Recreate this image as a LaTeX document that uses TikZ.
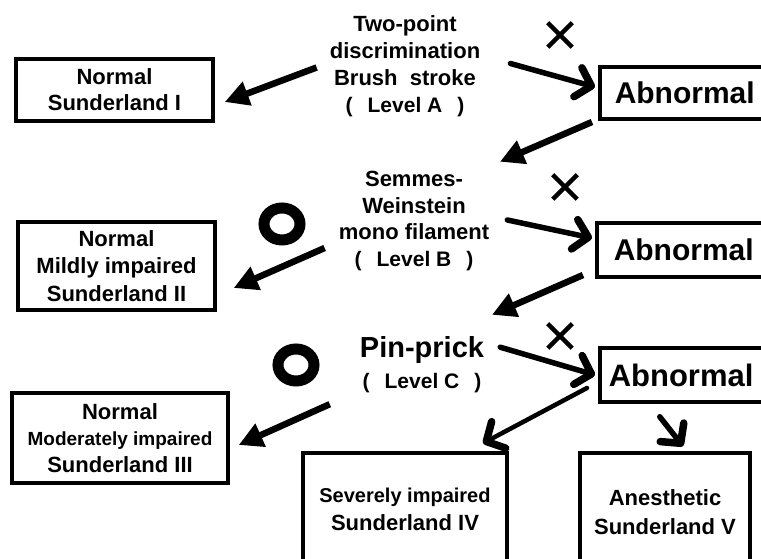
\documentclass[tikz,border=0pt]{standalone}
\usepackage{fontspec}
\setmainfont{Liberation Sans}
\usetikzlibrary{arrows.meta,shapes.misc,shapes.geometric,calc}

\begin{document}
\begin{tikzpicture}[x=1pt,y=1pt,
  box/.style={draw,line width=3.5pt,inner sep=0pt,align=center},
  abn/.style={draw,line width=3.5pt,anchor=west,text width=170pt,align=left,inner ysep=0pt,font=\bfseries\fontsize{30}{30}\selectfont},
  txt/.style={inner sep=0pt,align=center},
  fat/.style={line width=6.5pt,-{Triangle[length=24pt,width=24pt]}},
  barb/.style={line width=5.5pt,line cap=round,-{Straight Barb[length=14pt,width=30pt,line width=7.5pt,round]}},
  ring/.style={ellipse,draw,line width=11pt,minimum width=36pt,minimum height=32pt,inner sep=0pt},
  ng/.style={cross out,draw,line width=4.5pt,minimum size=20pt,inner sep=0pt}]
\useasboundingbox (0,0) rectangle (761,559);

% Text Node
\node [txt] [font=\bfseries\fontsize{22}{27}\selectfont] (tA) at (405,492.5) {Two-point\\discrimination\\Brush\ \ stroke\\{\fontsize{21}{27}\selectfont(\hspace{15pt}Level A\hspace{15pt})}};
% Text Node
\node [txt] [font=\bfseries\fontsize{22}{26.8}\selectfont] (tB) at (414,338) {Semmes-\\Weinstein\\mono filament\\{\fontsize{21}{26.8}\selectfont(\hspace{15pt}Level B\hspace{15pt})}};
% Text Node
\node [txt] [font=\bfseries\fontsize{29}{31}\selectfont] (tC) at (422,194.8) {Pin-prick\\{\fontsize{21}{31}\selectfont(\hspace{15pt}Level C\hspace{15pt})}};

% Boxes
\node [box] [minimum width=197pt,minimum height=62pt] [font=\bfseries\fontsize{22}{26}\selectfont] (nI) at (114.5,469) {Normal\\Sunderland I};
\node [box] [minimum width=197pt,minimum height=88pt] [font=\bfseries\fontsize{22}{27.5}\selectfont] (nII) at (116.5,293) {Normal\\Mildly impaired\\Sunderland II};
\node [box] [minimum width=216pt,minimum height=90pt] [font=\bfseries\fontsize{22}{26.5}\selectfont] (nIII) at (120,121) {Normal\\{\fontsize{19}{26.5}\selectfont Moderately impaired}\\Sunderland III};
\node [box] [minimum width=204pt,minimum height=112pt] [font=\bfseries\fontsize{22}{28}\selectfont] (sIV) at (405,50) {{\fontsize{20}{28}\selectfont Severely impaired}\\Sunderland IV};
\node [box] [minimum width=170pt,minimum height=118pt] [font=\bfseries\fontsize{22}{29}\selectfont] (anV) at (665,47) {Anesthetic\\Sunderland V};

\node [abn] [minimum height=52pt,inner xsep=15pt] (abA) at (598,466) {Abnormal};
\node [abn] [minimum height=54pt,inner xsep=17pt] (abB) at (595,309) {Abnormal};
\node [abn] [minimum height=54pt,inner xsep=9pt] [font=\bfseries\fontsize{31}{31}\selectfont] (abC) at (598,184) {Abnormal};

%Shape: Circle
\node [ring] (okB) at (282,335) {};
\node [ring] (okC) at (296,194) {};
%Shape: Cross
\node [ng] (ngA) at (560,524) {};
\node [ng] (ngB) at (565,372) {};
\node [ng] (ngC) at (560,223) {};

%Straight Lines
\draw [fat] ($(tA.west)+(-13,-1)$) -- ($(nI.east)+(10,-12)$);
\draw [barb] ($(tA.east)+(30,3)$) -- ($(abA.west)+(-3,6)$);
\draw [fat] ($(abA.west)+(-6,-29)$) -- ($(tB.north)+(86,9)$);
\draw [barb] ($(tB.east)+(18,1)$) -- ($(abB.west)+(-3,12)$);
\draw [fat] ($(tB.west)+(-14,-27)$) -- ($(nII.east)+(17,-22)$);
\draw [fat] ($(abB.west)+(-12,-25)$) -- ($(tC.north)+(70,21)$);
\draw [barb] ($(tC.east)+(16,17)$) -- ($(abC.west)+(-3,0)$);
\draw [fat] ($(tC.west)+(-30,-40)$) -- ($(nIII.east)+(9,-7)$);
\draw [barb] [line width=4.5pt] ($(abC.west)+(-11,-13)$) -- ($(sIV.north)+(78,8)$);
\draw [barb] ($(abC.south)+(-34,-13)$) -- ($(anV.north)+(18,5)$);

\end{tikzpicture}
\end{document}
